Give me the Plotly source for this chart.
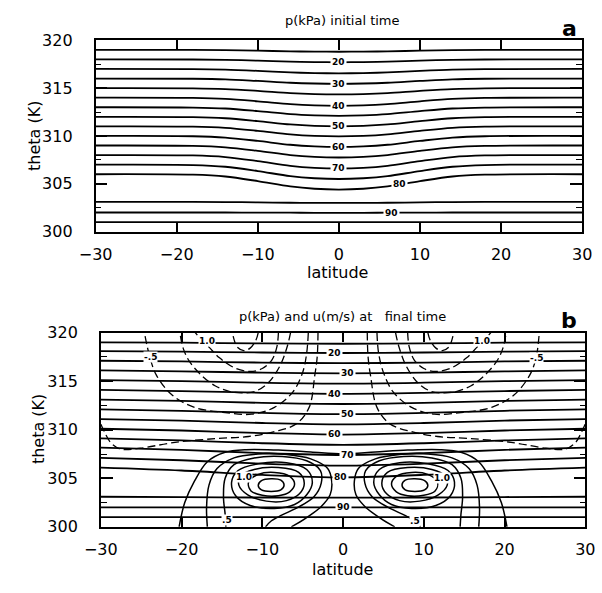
import numpy as np
import plotly.graph_objects as go

# ---------------- data: panel a (isobars, kPa) ----------------
LAT_A = [-30, -18, -14, -10, -6, -3, 0, 3, 6, 10, 14, 18, 30]
a_p15 = [319.0, 318.99, 318.97, 318.91, 318.84, 318.81, 318.80, 318.81, 318.84, 318.91, 318.97, 318.99, 319.0]
a_p20 = [318.0, 317.99, 317.96, 317.87, 317.76, 317.72, 317.70, 317.72, 317.76, 317.87, 317.96, 317.99, 318.0]
a_p25 = [317.0, 316.99, 316.93, 316.80, 316.64, 316.57, 316.55, 316.57, 316.64, 316.80, 316.93, 316.99, 317.0]
a_p30 = [316.0, 315.98, 315.92, 315.75, 315.56, 315.48, 315.45, 315.48, 315.56, 315.75, 315.92, 315.98, 316.0]
a_p35 = [315.0, 314.98, 314.90, 314.71, 314.48, 314.38, 314.35, 314.38, 314.48, 314.71, 314.90, 314.98, 315.0]
a_p40 = [314.0, 313.97, 313.87, 313.62, 313.32, 313.19, 313.15, 313.19, 313.32, 313.62, 313.87, 313.97, 314.0]
a_p45 = [313.0, 312.97, 312.87, 312.60, 312.28, 312.15, 312.10, 312.15, 312.28, 312.60, 312.87, 312.97, 313.0]
a_p50 = [312.0, 311.97, 311.85, 311.55, 311.20, 311.05, 311.00, 311.05, 311.20, 311.55, 311.85, 311.97, 312.0]
a_p55 = [311.0, 310.97, 310.84, 310.53, 310.16, 310.00, 309.95, 310.00, 310.16, 310.53, 310.84, 310.97, 311.0]
a_p60 = [310.0, 309.97, 309.83, 309.48, 309.08, 308.91, 308.85, 308.91, 309.08, 309.48, 309.83, 309.97, 310.0]
a_p65 = [309.0, 308.96, 308.81, 308.44, 308.00, 307.81, 307.75, 307.81, 308.00, 308.44, 308.81, 308.96, 309.0]
a_p70 = [308.0, 307.96, 307.79, 307.37, 306.88, 306.67, 306.60, 306.67, 306.88, 307.37, 307.79, 307.96, 308.0]
a_p75 = [307.0, 306.96, 306.78, 306.33, 305.80, 305.58, 305.50, 305.58, 305.80, 306.33, 306.78, 306.96, 307.0]
a_p80 = [306.0, 305.95, 305.76, 305.28, 304.72, 304.48, 304.40, 304.48, 304.72, 305.28, 305.76, 305.95, 306.0]
a_p85 = [303.1, 303.10, 303.09, 303.06, 303.02, 303.00, 303.00, 303.00, 303.02, 303.06, 303.09, 303.10, 303.1]
a_p90 = [302.0, 302.0, 302.0, 301.99, 301.98, 301.97, 301.97, 301.97, 301.98, 301.99, 302.0, 302.0, 302.0]
a_p95 = [301.0, 301.0, 301.0, 301.0, 301.0, 301.0, 301.0, 301.0, 301.0, 301.0, 301.0, 301.0, 301.0]

# labels on panel a isobars: (text, line, latitude of label)
A_LABELS = [("20", a_p20, 0.0), ("30", a_p30, 0.0), ("40", a_p40, 0.0), ("50", a_p50, 0.0),
            ("60", a_p60, 0.0), ("70", a_p70, 0.0), ("80", a_p80, 7.5), ("90", a_p90, 6.5)]

# ---------------- data: panel b (isobars, kPa) ----------------
LAT_B = [-30, -20, -10, 0, 10, 20, 30]
b_p15 = [319.0, 318.96, 318.89, 318.85, 318.89, 318.96, 319.0]
b_p20 = [318.1, 318.04, 317.95, 317.90, 317.95, 318.04, 318.1]
b_p25 = [317.1, 317.03, 316.91, 316.85, 316.91, 317.03, 317.1]
b_p30 = [316.1, 316.01, 315.88, 315.80, 315.88, 316.01, 316.1]
b_p35 = [315.1, 315.00, 314.84, 314.75, 314.84, 315.00, 315.1]
b_p40 = [314.1, 313.98, 313.80, 313.70, 313.80, 313.98, 314.1]
b_p45 = [313.1, 312.97, 312.76, 312.65, 312.76, 312.97, 313.1]
b_p50 = [312.1, 311.95, 311.73, 311.60, 311.73, 311.95, 312.1]
b_p55 = [311.1, 310.94, 310.69, 310.55, 310.69, 310.94, 311.1]
b_p60 = [310.1, 309.92, 309.65, 309.50, 309.65, 309.92, 310.1]
b_p65 = [309.1, 308.90, 308.61, 308.45, 308.61, 308.90, 309.1]
b_p70 = [308.15, 307.93, 307.59, 307.40, 307.59, 307.93, 308.15]
b_p75 = [307.1, 306.86, 306.50, 306.30, 306.50, 306.86, 307.1]
b_p80 = [306.1, 305.80, 305.35, 305.10, 305.35, 305.80, 306.1]
b_p85 = [303.1, 303.07, 303.02, 303.00, 303.02, 303.07, 303.1]
b_p90 = [302.0, 302.0, 302.0, 302.0, 302.0, 302.0, 302.0]
b_p95 = [301.0, 301.0, 301.0, 301.0, 301.0, 301.0, 301.0]

B_LABELS = [("20", b_p20, -1.1), ("30", b_p30, 0.6), ("40", b_p40, -1.1), ("50", b_p50, 0.6),
            ("60", b_p60, -1.1), ("70", b_p70, 0.6), ("80", b_p80, -0.3), ("90", b_p90, 0.05)]

# ---------------- data: panel b, u (m/s) positive contours (solid) ----------------
uR150_lat = [7.3, 7.7, 8.9, 10.1, 10.5, 10.1, 8.9, 7.7, 7.3]
uR150_th = [304.3, 304.8, 304.95, 304.75, 304.25, 303.8, 303.65, 303.8, 304.3]
uR125_lat = [6.0, 6.6, 8.5, 10.5, 11.7, 11.4, 10.0, 8.0, 6.6, 6.0]
uR125_th = [304.4, 305.2, 305.6, 305.4, 304.6, 303.7, 303.25, 303.2, 303.6, 304.4]
uR100_lat = [4.8, 5.5, 8.0, 11.0, 12.7, 12.9, 11.8, 9.5, 7.0, 5.4, 4.8]
uR100_th = [304.5, 305.6, 306.1, 305.9, 305.2, 304.3, 303.3, 302.65, 302.7, 303.4, 304.5]
uR075_lat = [3.8, 4.5, 7.0, 10.5, 13.0, 13.8, 13.3, 11.5, 8.5, 6.0, 4.5, 3.8]
uR075_th = [304.6, 305.9, 306.6, 306.5, 305.8, 304.6, 303.2, 302.2, 301.9, 302.3, 303.3, 304.6]
uR050_lat = [9.6, 8.9, 7.6, 5.6, 3.6, 2.7, 2.8, 4.5, 7.5, 11.0, 13.5, 14.6, 14.8, 14.6, 14.5]
uR050_th = [300.0, 300.6, 301.2, 302.0, 303.1, 304.5, 305.8, 306.8, 307.25, 307.1, 306.4, 305.0, 303.0, 301.3, 300.0]
uR025_lat = [6.4, 4.6, 2.7, 1.6, 1.4, 1.9, 4.0, 7.0, 10.5, 13.5, 15.6, 16.6, 16.9, 16.8]
uR025_th = [300.0, 300.9, 302.1, 303.3, 304.7, 306.0, 307.0, 307.45, 307.5, 307.1, 306.0, 304.3, 302.0, 300.0]

uL150_lat = [-7.3, -7.7, -8.9, -10.1, -10.5, -10.1, -8.9, -7.7, -7.3]
uL150_th = [304.3, 304.8, 304.95, 304.75, 304.25, 303.8, 303.65, 303.8, 304.3]
uL125_lat = [-6.0, -6.6, -8.5, -10.5, -11.7, -11.4, -10.0, -8.0, -6.6, -6.0]
uL125_th = [304.4, 305.2, 305.6, 305.4, 304.6, 303.7, 303.25, 303.2, 303.6, 304.4]
uL100_lat = [-4.8, -5.5, -8.0, -11.0, -12.7, -12.9, -11.8, -9.5, -7.0, -5.4, -4.8]
uL100_th = [304.5, 305.6, 306.1, 305.9, 305.2, 304.3, 303.3, 302.65, 302.7, 303.4, 304.5]
uL075_lat = [-3.8, -4.5, -7.0, -10.5, -13.0, -13.8, -13.3, -11.5, -8.5, -6.0, -4.5, -3.8]
uL075_th = [304.6, 305.9, 306.6, 306.5, 305.8, 304.6, 303.2, 302.2, 301.9, 302.3, 303.3, 304.6]
uL050_lat = [-9.6, -8.9, -7.6, -5.6, -3.6, -2.7, -2.8, -4.5, -7.5, -11.0, -13.5, -14.6, -14.8, -14.6, -14.5]
uL050_th = [300.0, 300.6, 301.2, 302.0, 303.1, 304.5, 305.8, 306.8, 307.25, 307.1, 306.4, 305.0, 303.0, 301.3, 300.0]
uL025_lat = [-6.4, -4.6, -2.7, -1.6, -1.4, -1.9, -4.0, -7.0, -10.5, -13.5, -15.6, -16.6, -16.9, -16.8]
uL025_th = [300.0, 300.9, 302.1, 303.3, 304.7, 306.0, 307.0, 307.45, 307.5, 307.1, 306.0, 304.3, 302.0, 300.0]

u_arch_lat = [-20.3, -19.6, -18.4, -16.8, -14.7, -12.0, -8.0, -4.0, 0.0, 4.0, 8.0, 12.0, 14.7, 16.8, 18.4, 19.6, 20.3]
u_arch_th = [300.0, 302.5, 304.7, 306.7, 307.65, 307.95, 307.9, 307.7, 307.5, 307.7, 307.9, 307.95, 307.65, 306.7, 304.7, 302.5, 300.0]

# ---------------- data: panel b, u negative contours (dashed) ----------------
nR125_lat = [10.5, 10.8, 11.5, 12.3, 13.1, 13.5, 13.7]
nR125_th = [320.0, 319.2, 318.4, 318.15, 318.5, 319.3, 320.0]
nR100_lat = [8.0, 8.2, 8.8, 10.0, 11.5, 13.5, 15.3, 16.6, 17.6, 18.3]
nR100_th = [320.0, 318.5, 317.2, 316.3, 316.0, 316.4, 317.4, 318.5, 319.3, 320.0]
nR075_lat = [6.5, 6.9, 7.8, 9.3, 10.9, 12.5, 14.1, 15.8, 17.4, 19.0, 19.8, 20.2]
nR075_th = [320.0, 318.6, 316.6, 314.8, 313.95, 313.8, 313.95, 314.5, 315.5, 317.0, 318.4, 320.0]
nR050_lat = [4.2, 4.4, 5.0, 6.2, 8.5, 11.3, 14.9, 18.4, 21.2, 23.1, 23.9, 24.3]
nR050_th = [320.0, 317.9, 315.9, 313.9, 312.3, 311.6, 311.8, 312.3, 313.6, 315.6, 317.4, 320.0]
nR025_lat = [3.0, 3.1, 3.4, 4.2, 5.8, 8.5, 11.7, 15.6, 20.8, 25.1, 27.5, 28.8, 29.5, 30.0]
nR025_th = [320.0, 317.5, 315.6, 312.3, 310.6, 309.8, 309.3, 309.1, 308.7, 308.1, 308.0, 308.7, 309.7, 310.6]

nL125_lat = [-10.5, -10.8, -11.5, -12.3, -13.1, -13.5, -13.7]
nL125_th = [320.0, 319.2, 318.4, 318.15, 318.5, 319.3, 320.0]
nL100_lat = [-8.0, -8.2, -8.8, -10.0, -11.5, -13.5, -15.3, -16.6, -17.6, -18.3]
nL100_th = [320.0, 318.5, 317.2, 316.3, 316.0, 316.4, 317.4, 318.5, 319.3, 320.0]
nL075_lat = [-6.5, -6.9, -7.8, -9.3, -10.9, -12.5, -14.1, -15.8, -17.4, -19.0, -19.8, -20.2]
nL075_th = [320.0, 318.6, 316.6, 314.8, 313.95, 313.8, 313.95, 314.5, 315.5, 317.0, 318.4, 320.0]
nL050_lat = [-4.3, -4.5, -5.0, -6.2, -8.5, -11.3, -14.9, -18.4, -21.2, -23.1, -23.9, -24.6]
nL050_th = [320.0, 317.9, 315.9, 313.9, 312.3, 311.6, 311.8, 312.3, 313.6, 315.6, 317.4, 320.0]
nL025_lat = [-3.1, -3.2, -3.5, -4.2, -5.8, -8.5, -11.7, -15.6, -20.8, -25.1, -27.5, -28.8, -29.5, -30.0]
nL025_th = [320.0, 317.5, 315.6, 312.3, 310.6, 309.8, 309.3, 309.1, 308.7, 308.1, 308.0, 308.7, 309.7, 310.6]

# u contour labels: (text, lat, theta)
U_LABELS = [("1.0", -16.9, 319.1), ("1.0", 17.2, 319.1), ("-.5", -23.8, 317.5), ("-.5", 23.9, 317.4),
            ("1.0", -12.3, 305.1), ("1.0", 12.3, 305.0), (".5", -14.4, 300.7), (".5", 8.9, 300.6)]

# ---------------- figure ----------------
fig = go.Figure()
ISO_W = 1.8

a_lines = [a_p15, a_p20, a_p25, a_p30, a_p35, a_p40, a_p45, a_p50, a_p55,
           a_p60, a_p65, a_p70, a_p75, a_p80, a_p85, a_p90, a_p95]
for th in a_lines:
    fig.add_trace(go.Scatter(x=LAT_A, y=th, mode="lines", xaxis="x", yaxis="y",
                             line=dict(color="black", width=ISO_W, shape="spline", smoothing=0.9),
                             hoverinfo="skip", showlegend=False))

b_lines = [b_p15, b_p20, b_p25, b_p30, b_p35, b_p40, b_p45, b_p50, b_p55,
           b_p60, b_p65, b_p70, b_p75, b_p80, b_p85, b_p90, b_p95]
for th in b_lines:
    fig.add_trace(go.Scatter(x=LAT_B, y=th, mode="lines", xaxis="x2", yaxis="y2",
                             line=dict(color="black", width=ISO_W, shape="spline", smoothing=0.9),
                             hoverinfo="skip", showlegend=False))

solid = [(uR150_lat, uR150_th), (uR125_lat, uR125_th), (uR100_lat, uR100_th), (uR075_lat, uR075_th),
         (uR050_lat, uR050_th), (uR025_lat, uR025_th),
         (uL150_lat, uL150_th), (uL125_lat, uL125_th), (uL100_lat, uL100_th), (uL075_lat, uL075_th),
         (uL050_lat, uL050_th), (uL025_lat, uL025_th), (u_arch_lat, u_arch_th)]
for la, th in solid:
    fig.add_trace(go.Scatter(x=la, y=th, mode="lines", xaxis="x2", yaxis="y2",
                             line=dict(color="black", width=1.5, shape="spline", smoothing=1.0),
                             hoverinfo="skip", showlegend=False))

dashed = [(nR125_lat, nR125_th), (nR100_lat, nR100_th), (nR075_lat, nR075_th), (nR050_lat, nR050_th),
          (nR025_lat, nR025_th),
          (nL125_lat, nL125_th), (nL100_lat, nL100_th), (nL075_lat, nL075_th), (nL050_lat, nL050_th),
          (nL025_lat, nL025_th)]
for la, th in dashed:
    fig.add_trace(go.Scatter(x=la, y=th, mode="lines", xaxis="x2", yaxis="y2",
                             line=dict(color="black", width=1.3, shape="spline", smoothing=1.0, dash="8px,4px"),
                             hoverinfo="skip", showlegend=False))

annotations = []
LBL_FONT = dict(family="DejaVu Sans", size=9, color="black", weight="bold")
for txt, th, lat in A_LABELS:
    annotations.append(dict(x=lat, y=float(np.interp(lat, LAT_A, th)), xref="x", yref="y", text=txt,
                            showarrow=False, font=LBL_FONT, bgcolor="white", borderpad=1))
for txt, th, lat in B_LABELS:
    annotations.append(dict(x=lat, y=float(np.interp(lat, LAT_B, th)), xref="x2", yref="y2", text=txt,
                            showarrow=False, font=LBL_FONT, bgcolor="white", borderpad=1))
for txt, lat, th in U_LABELS:
    annotations.append(dict(x=lat, y=th, xref="x2", yref="y2", text=txt,
                            showarrow=False, font=LBL_FONT, bgcolor="white", borderpad=0))

TXT = dict(family="DejaVu Sans", color="black")
W, H = 602, 593
def px(xp, yp):
    return xp / W, 1 - yp / H

for (xp, yp, txt, size, ang, bold) in [
        (341, 12, "p(kPa) initial time", 13, 0, False),
        (578, 20, "a", 22, 0, True),
        (336, 272, "latitude", 16, 0, False),
        (19, 131, "theta (K)", 16, -90, False),
        (341, 318, "p(kPa) and u(m/s) at   final time", 13, 0, False),
        (578, 322, "b", 22, 0, True),
        (341, 579, "latitude", 16, 0, False),
        (22, 434, "theta (K)", 16, -90, False)]:
    x0, y0 = px(xp, yp)
    annotations.append(dict(x=x0, y=y0, xref="paper", yref="paper", text=txt, showarrow=False,
                            textangle=ang, xanchor="center", yanchor="middle",
                            font=dict(TXT, size=size, weight="bold" if bold else "normal")))

def xax(domain, anchor):
    return dict(domain=domain, anchor=anchor, range=[-30, 30], tickmode="linear", tick0=-30, dtick=10,
                ticks="inside", ticklen=10, tickwidth=1.5, tickcolor="black",
                showline=True, linecolor="black", linewidth=1.5, mirror="allticks",
                showgrid=False, zeroline=False, ticklabelstandoff=7,
                tickfont=dict(family="DejaVu Sans", size=16, color="black"))

def yax(domain, anchor):
    return dict(domain=domain, anchor=anchor, range=[300, 320], tickmode="linear", tick0=300, dtick=5,
                ticks="inside", ticklen=12, tickwidth=1.5, tickcolor="black",
                minor=dict(ticks="inside", ticklen=6, dtick=2.5, tickcolor="black", tickwidth=1.2),
                showline=True, linecolor="black", linewidth=1.5, mirror="allticks",
                showgrid=False, zeroline=False, ticklabelstandoff=18,
                tickfont=dict(family="DejaVu Sans", size=16, color="black"))

fig.update_layout(
    width=W, height=H, autosize=False,
    margin=dict(l=0, r=0, t=0, b=0),
    paper_bgcolor="white", plot_bgcolor="white",
    showlegend=False,
    xaxis=xax([82.3 / W, 591.7 / W], "y"),
    yaxis=yax([1 - 230 / H, 1 - 32.3 / H], "x"),
    xaxis2=xax([87.7 / W, 595 / W], "y2"),
    yaxis2=yax([1 - 535 / H, 1 - 334.3 / H], "x2"),
    annotations=annotations,
)

fig.write_html("out.html")
